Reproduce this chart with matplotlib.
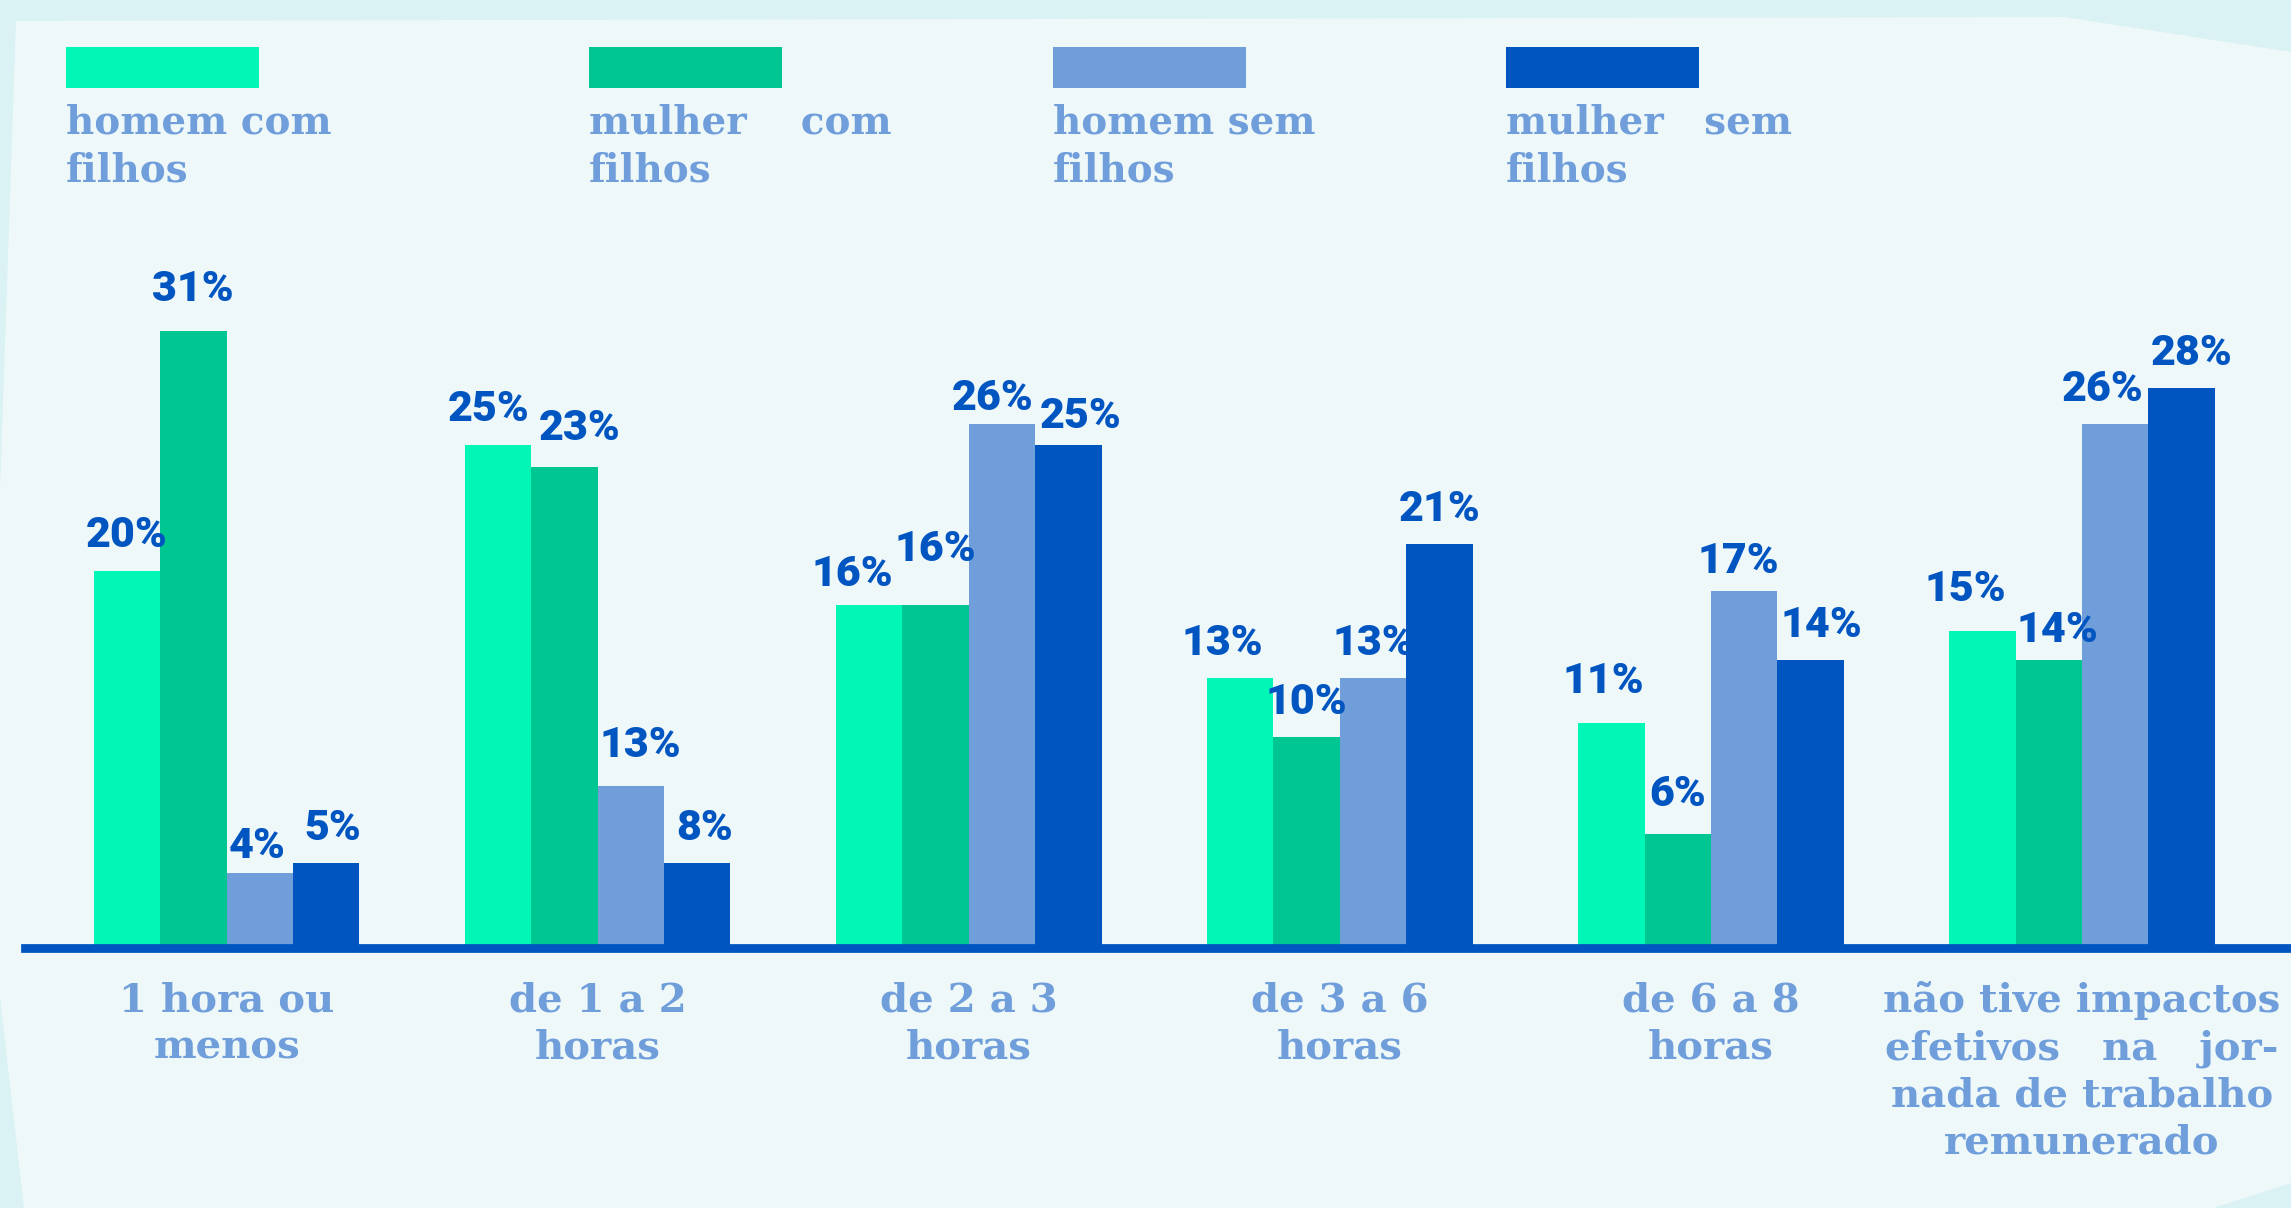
import matplotlib.pyplot as plt
from matplotlib.patches import Polygon, Rectangle
import numpy as np

categorias = ["1 hora ou\nmenos", "de 1 a 2\nhoras", "de 2 a 3\nhoras",
              "de 3 a 6\nhoras", "de 6 a 8\nhoras",
              "não tive impactos\nefetivos   na   jor-\nnada de trabalho\nremunerado"]
series = ["homem com\nfilhos", "mulher    com\nfilhos", "homem sem\nfilhos", "mulher   sem\nfilhos"]

# percentuais escritos sobre as barras
pct_homem_com = [20, 25, 16, 13, 11, 15]
pct_mulher_com = [31, 23, 16, 10, 6, 14]
pct_homem_sem = [4, 13, 26, 13, 17, 26]
pct_mulher_sem = [5, 8, 25, 21, 14, 28]

# altura das barras como aparece no original (nem sempre bate com o rotulo)
alt_homem_com = [18.6, 24.8, 16.9, 13.3, 11.1, 15.6]
alt_mulher_com = [30.4, 23.7, 16.9, 10.4, 5.6, 14.2]
alt_homem_sem = [3.7, 8.0, 25.8, 13.3, 17.6, 25.8]
alt_mulher_sem = [4.2, 4.2, 24.8, 19.9, 14.2, 27.6]

cores = ["#00F7B6", "#00C792", "#6F9EDB", "#0055C1"]
cor_texto = "#6F9EDB"
cor_rotulo = "#0055C1"

# pequenos deslocamentos (pt) dos rotulos, como no original: (serie, grupo) -> (dx, dy)
ajustes = {(1, 0): (0, 5), (2, 0): (-2, -6), (3, 0): (5, 0),
           (0, 1): (-7, 0), (1, 1): (11, 3), (2, 1): (7, 4), (3, 1): (5, 0),
           (0, 2): (-12, -3), (1, 2): (0, 15), (2, 2): (-7, -6), (3, 2): (9, -5),
           (0, 3): (-13, 0),
           (0, 4): (-6, 5), (1, 4): (0, 4), (2, 4): (-4, -4), (3, 4): (8, 0),
           (0, 5): (-12, 5), (1, 5): (6, -4), (2, 5): (-9, 0), (3, 5): (7, 0)}

W, H = 2291, 1208
fig = plt.figure(figsize=(W / 100, H / 100), dpi=100, facecolor="#DAF2F3")

# fundo claro em forma de poligono
pts = [(16, 21), (2064, 17), (2291, 52), (2291, 1183), (2213, 1208),
       (24, 1208), (0, 997), (0, 490)]
fig.patches.append(Polygon([(x / W, 1 - y / H) for x, y in pts], closed=True,
                           transform=fig.transFigure, facecolor="#EFF8F9",
                           edgecolor="none", zorder=-10))

ax = fig.add_axes([25 / W, (H - 948) / H, (W - 25) / W, 690 / H])
ax.set_facecolor("none")

x = np.arange(len(categorias))
w = 0.179
alturas = [alt_homem_com, alt_mulher_com, alt_homem_sem, alt_mulher_sem]
rotulos = [pct_homem_com, pct_mulher_com, pct_homem_sem, pct_mulher_sem]
for i in range(4):
    xs = x + (i - 1.5) * w
    ax.bar(xs, alturas[i], w, color=cores[i], zorder=2)
    for j in range(len(x)):
        dx, dy = ajustes.get((i, j), (0, 0))
        ax.annotate(str(rotulos[i][j]) + "%", (xs[j], alturas[i][j]),
                    xytext=(dx, 25 + dy), textcoords="offset points",
                    ha="center", va="center", color=cor_rotulo, fontsize=31,
                    fontweight="black", family=["Roboto", "DejaVu Sans"], zorder=4)

ax.set_xlim(-0.543, 5.563)
ax.set_ylim(0, 34)
for s in ["top", "left", "right"]:
    ax.spines[s].set_visible(False)
ax.spines["bottom"].set_linewidth(6.3)
ax.spines["bottom"].set_color(cor_rotulo)
ax.spines["bottom"].set_zorder(3)
ax.set_yticks([])
ax.set_xticks(x, categorias)
ax.tick_params(axis="x", length=0, pad=24)
for t in ax.get_xticklabels():
    t.set_family("DejaVu Serif")
    t.set_fontweight("bold")
    t.set_fontsize(29)
    t.set_color(cor_texto)
    t.set_linespacing(1.3)
    t.set_multialignment("center")

# legenda feita a mao
leg_x = [66, 589, 1053, 1506]
for i in range(4):
    fig.patches.append(Rectangle((leg_x[i] / W, 1 - 88 / H), 193 / W, 41 / H,
                                 transform=fig.transFigure, facecolor=cores[i],
                                 edgecolor="none"))
    fig.text(leg_x[i] / W, 1 - 104 / H, series[i], ha="left", va="top",
             family="DejaVu Serif", fontweight="bold",
             fontsize=28, color=cor_texto, linespacing=1.3)

fig.savefig("out.png", dpi=100, facecolor=fig.get_facecolor())
